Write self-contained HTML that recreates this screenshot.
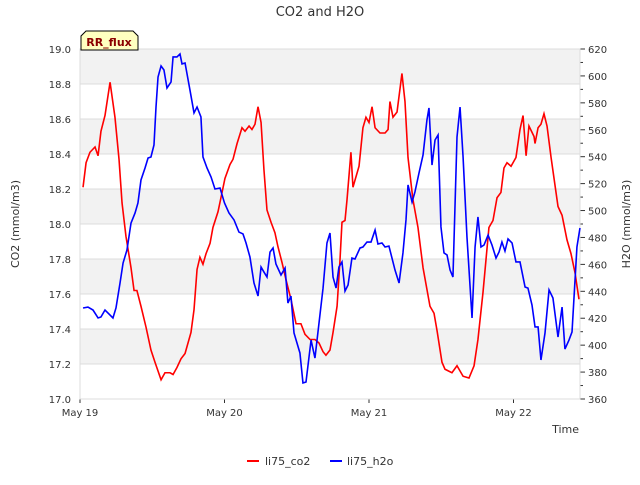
<!DOCTYPE html>
<html><head><meta charset="utf-8"><style>
body{margin:0;background:#fff;font-family:"Liberation Sans",sans-serif}
text{font-family:"DejaVu Sans","Liberation Sans",sans-serif}
</style></head><body>
<svg id="chart" width="640" height="480" xmlns="http://www.w3.org/2000/svg">
<text x="320" y="16" text-anchor="middle" font-size="13" fill="#333">CO2 and H2O</text>
<g id="grid"></g>
<g id="axes"></g>
<g id="series"></g>
<text transform="translate(19,224) rotate(-90)" text-anchor="middle" font-size="11" fill="#333">CO2 (mmol/m3)</text>
<text transform="translate(630,224) rotate(-90)" text-anchor="middle" font-size="11" fill="#333">H2O (mmol/m3)</text>
<text x="579" y="433" text-anchor="end" font-size="11" fill="#333">Time</text>
<g>
<path d="M81,50 L81,36 L86,31 L133,31 L138,36 L138,50 Z" fill="#ffffc0" stroke="#000" stroke-width="1"/>
<text x="109" y="46" text-anchor="middle" font-size="11" font-weight="bold" fill="#8b0000">RR_flux</text>
</g>
<g>
<g><line x1="247" y1="461" x2="259" y2="461" stroke="#ff0000" stroke-width="2"/><text x="265" y="465" font-size="11" fill="#333">li75_co2</text></g>
<g><line x1="330" y1="461" x2="342" y2="461" stroke="#0000ff" stroke-width="2"/><text x="347" y="465" font-size="11" fill="#333">li75_h2o</text></g>
</g>
</svg>
<script>
const co2Times=[.021,.042,.069,.104,.125,.145,.173,.208,.242,.270,.291,.318,.353,.374,.394,.422,.457,.491,.519,.561,.588,.623,.644,.671,.699,.727,.768,.789,.810,.830,.851,.872,.900,.920,.955,.983,1.003,1.038,1.059,1.087,1.121,1.142,1.170,1.190,1.211,1.232,1.253,1.273,1.294,1.322,1.349,1.370,1.398,1.426,1.460,1.495,1.529,1.557,1.592,1.626,1.654,1.682,1.702,1.730,1.751,1.779,1.799,1.813,1.834,1.848,1.875,1.889,1.931,1.958,1.979,2.000,2.021,2.042,2.076,2.111,2.132,2.145,2.166,2.194,2.228,2.249,2.270,2.304,2.339,2.374,2.422,2.450,2.471,2.505,2.526,2.574,2.609,2.651,2.692,2.727,2.754,2.789,2.830,2.858,2.886,2.913,2.934,2.955,2.983,3.017,3.045,3.066,3.087,3.107,3.142,3.149,3.170,3.190,3.211,3.232,3.260,3.308,3.336,3.370,3.398,3.426,3.453];
const co2Values=[18.21,18.35,18.41,18.44,18.39,18.53,18.62,18.81,18.61,18.37,18.12,17.93,17.75,17.62,17.62,17.53,17.41,17.28,17.21,17.11,17.15,17.15,17.14,17.18,17.23,17.26,17.38,17.51,17.74,17.81,17.77,17.83,17.89,17.98,18.07,18.18,18.26,18.34,18.37,18.46,18.55,18.53,18.56,18.54,18.57,18.67,18.58,18.31,18.08,18.01,17.95,17.87,17.78,17.68,17.57,17.43,17.43,17.37,17.34,17.34,17.32,17.27,17.25,17.28,17.38,17.53,17.79,18.01,18.02,18.14,18.41,18.21,18.33,18.55,18.61,18.58,18.67,18.55,18.52,18.52,18.54,18.70,18.61,18.64,18.86,18.70,18.38,18.14,17.98,17.75,17.53,17.49,17.39,17.21,17.17,17.15,17.19,17.13,17.12,17.19,17.34,17.61,17.98,18.02,18.15,18.18,18.32,18.35,18.33,18.38,18.54,18.62,18.39,18.56,18.50,18.46,18.55,18.57,18.63,18.56,18.38,18.10,18.05,17.91,17.83,17.72,17.57];
const h2oTimes=[.021,.055,.090,.125,.145,.173,.201,.228,.249,.277,.298,.325,.353,.381,.401,.422,.450,.471,.491,.512,.526,.540,.561,.581,.602,.630,.644,.671,.692,.706,.727,.761,.789,.810,.837,.851,.879,.907,.934,.969,1.000,1.031,1.066,1.100,1.128,1.149,1.176,1.204,1.232,1.253,1.273,1.294,1.315,1.336,1.356,1.391,1.419,1.439,1.460,1.481,1.522,1.543,1.564,1.599,1.626,1.654,1.682,1.709,1.730,1.751,1.772,1.792,1.813,1.834,1.855,1.882,1.903,1.938,1.958,1.986,2.014,2.042,2.062,2.090,2.111,2.138,2.180,2.208,2.235,2.256,2.270,2.298,2.318,2.346,2.374,2.401,2.415,2.436,2.457,2.478,2.498,2.519,2.540,2.561,2.581,2.609,2.630,2.651,2.678,2.713,2.734,2.754,2.775,2.796,2.824,2.851,2.879,2.900,2.920,2.941,2.962,2.990,3.017,3.045,3.080,3.100,3.128,3.149,3.170,3.190,3.218,3.246,3.273,3.308,3.336,3.356,3.384,3.405,3.439,3.460];
const h2oValues=[427.6,428.3,426.1,420.2,420.9,426.1,423.1,420.2,427.6,446.2,461.0,470.7,490.7,498.2,505.6,522.7,531.6,539.0,539.8,548.7,576.9,599.2,607.4,604.4,591.0,595.5,614.1,614.1,616.3,608.9,609.6,589.5,572.5,576.9,569.5,539.8,531.6,524.9,516.0,516.7,505.6,498.2,493.0,484.0,482.6,475.9,465.5,446.2,436.5,458.0,454.3,450.6,469.2,472.2,460.3,452.1,457.3,431.3,436.5,409.0,394.2,371.9,372.6,403.8,390.4,416.4,442.4,475.9,483.3,450.6,442.4,458.0,461.8,440.2,444.7,464.7,464.0,472.2,472.9,476.6,476.6,485.5,475.1,475.9,472.9,473.6,455.8,446.2,468.5,493.0,519.0,506.3,513.8,527.9,541.3,567.3,576.2,533.8,552.4,556.1,487.8,468.5,467.0,455.8,450.6,554.6,576.9,539.8,480.3,420.2,472.9,495.2,472.9,474.4,481.8,474.4,464.7,469.2,476.6,469.9,478.9,475.9,461.8,461.8,443.2,442.4,429.8,413.5,413.5,389.0,409.0,441.0,435.0,406.0,428.3,397.1,403.8,409.8,472.9,487.0];
const leftTicks=[17.0,17.2,17.4,17.6,17.8,18.0,18.2,18.4,18.6,18.8,19.0];
const rightTicks=[360,380,400,420,440,460,480,500,520,540,560,580,600,620];
const dayTicks=[0,1,2,3];
const dayLabels=["May 19","May 20","May 21","May 22"];

const L=80,R=580,T=49,B=399;
const xS=t=>L+t*144.5;
const yL=v=>B-(v-17)/2*(B-T);
const yR=v=>B-(v-360)/260*(B-T);
const NS="http://www.w3.org/2000/svg";
function mk(tag,parent,attrs){const e=document.createElementNS(NS,tag);for(const k in attrs)e.setAttribute(k,attrs[k]);parent.appendChild(e);return e;}
const grid=document.getElementById('grid'),axes=document.getElementById('axes'),series=document.getElementById('series');
for(let i=0;i<leftTicks.length-1;i++){
  if(i%2===1){const r=mk('rect',grid,{x:L,y:yL(leftTicks[i+1]),width:R-L,height:yL(leftTicks[i])-yL(leftTicks[i+1]),fill:'#f2f2f2'});
  
  }
}
leftTicks.forEach(v=>{
  const g=mk('line',grid,{x1:L,x2:R,y1:yL(v),y2:yL(v),stroke:'#dcdcdc','stroke-width':1});
  
  
  const t=mk('text',axes,{x:71,y:yL(v)+4,'text-anchor':'end','font-size':10,fill:'#333'});
  t.textContent=v.toFixed(1);
  
  
});
rightTicks.forEach((v,i)=>{
  mk('line',axes,{x1:R,x2:R+5,y1:yR(v),y2:yR(v),stroke:'#333'});
  if(i<rightTicks.length-1) mk('line',axes,{x1:R,x2:R+3,y1:yR(v+10),y2:yR(v+10),stroke:'#333'});
  const t=mk('text',axes,{x:588,y:yR(v)+4,'font-size':10,fill:'#333'});
  t.textContent=v;
  
  
});
dayTicks.forEach((d,i)=>{
  mk('line',axes,{x1:xS(d),x2:xS(d),y1:B,y2:B+4,stroke:'#333'});
  const t=mk('text',axes,{x:xS(d),y:416,'text-anchor':'middle','font-size':10,fill:'#333'});
  t.textContent=dayLabels[i];
  
  
});
mk('rect',axes,{x:L,y:T,width:R-L,height:B-T,fill:'none',stroke:'#dcdcdc'});
const p1=mk('polyline',series,{points:co2Times.map((t,i)=>xS(t)+','+yL(co2Values[i])).join(' '),fill:'none',stroke:'#ff0000','stroke-width':1.6});


const p2=mk('polyline',series,{points:h2oTimes.map((t,i)=>xS(t)+','+yR(h2oValues[i])).join(' '),fill:'none',stroke:'#0000ff','stroke-width':1.6});


</script>
</body></html>
